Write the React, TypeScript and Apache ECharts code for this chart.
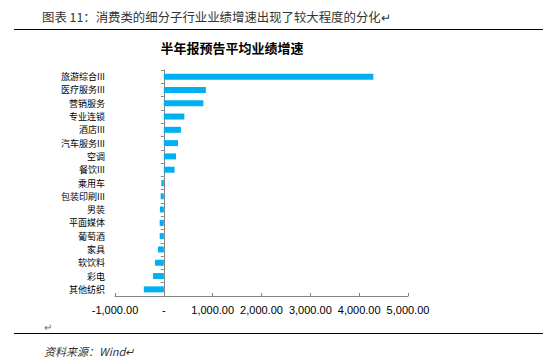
import React, { useEffect, useRef } from "react";
import * as echarts from "echarts";

const categories = [
  "旅游综合III", "医疗服务III", "营销服务", "专业连锁", "酒店III", "汽车服务III", "空调", "餐饮III",
  "乘用车", "包装印刷III", "男装", "平面媒体", "葡萄酒", "家具", "软饮料", "彩电", "其他纺织",
];
const growthValues = [4290, 860, 810, 420, 350, 290, 250, 220, -50, -65, -80, -85, -85, -120, -180, -220, -410];
const xTicks = { min: -1000, max: 5000, step: 1000 };

const headerText = "图表 11：消费类的细分子行业业绩增速出现了较大程度的分化↵";
const chartTitle = "半年报预告平均业绩增速";
const sourceText = "资料来源：Wind↵";

const CJK = '"Noto Sans CJK SC", "Liberation Sans", sans-serif';

function fmt(v: number): string {
  if (v === 0) return "-";
  const s = Math.abs(v).toFixed(2);
  const [i, d] = s.split(".");
  const withComma = i.replace(/\B(?=(\d{3})+(?!\d))/g, ",");
  return (v < 0 ? "-" : "") + withComma + "." + d;
}

export default function App() {
  const ref = useRef<HTMLDivElement>(null);
  useEffect(() => {
    if (!ref.current) return;
    const chart = echarts.init(ref.current, undefined, { renderer: "svg" });
    chart.setOption({
      animation: false,
      backgroundColor: "#ffffff",
      grid: { left: 115, right: 142, top: 70, bottom: 62, containLabel: false },
      xAxis: {
        type: "value",
        min: xTicks.min,
        max: xTicks.max,
        interval: xTicks.step,
        splitLine: { show: false },
        axisLine: { show: true, lineStyle: { color: "#868686", width: 1 } },
        axisTick: { show: true, inside: true, length: 3, lineStyle: { color: "#868686" } },
        axisLabel: {
          formatter: (v: number) => fmt(v),
          color: "#000",
          fontSize: 11,
          fontFamily: '"Liberation Sans", Arial, sans-serif',
          margin: 8,
        },
      },
      yAxis: {
        type: "category",
        inverse: true,
        data: categories,
        axisLine: { show: true, onZero: true, lineStyle: { color: "#868686", width: 1 } },
        axisTick: { show: true, length: 3, interval: 0, lineStyle: { color: "#868686" } },
        axisLabel: {
          interval: 0,
          color: "#000",
          fontSize: 9,
          lineHeight: 10,
          fontFamily: CJK,
          margin: 10,
        },
      },
      series: [
        {
          type: "bar",
          data: growthValues,
          barWidth: 6,
          itemStyle: { color: "#00B0F0" },
        },
      ],
      graphic: [
        {
          type: "text",
          x: 42,
          y: 17,
          style: {
            text: headerText,
            font: `12.4px ${CJK}`,
            fill: "#333",
            textVerticalAlign: "middle",
          },
        },
        {
          type: "line",
          shape: { x1: 14, y1: 29.5, x2: 543, y2: 29.5 },
          style: { stroke: "#000", lineWidth: 1.2 },
        },
        {
          type: "text",
          x: 232,
          y: 47,
          style: {
            text: chartTitle,
            font: `bold 13px ${CJK}`,
            fill: "#000",
            textAlign: "center",
            textVerticalAlign: "middle",
          },
        },
        {
          type: "text",
          x: 44,
          y: 326,
          style: { text: "↵", font: `10px ${CJK}`, fill: "#666", textVerticalAlign: "middle" },
        },
        {
          type: "line",
          shape: { x1: 14, y1: 333.5, x2: 543, y2: 333.5 },
          style: { stroke: "#000", lineWidth: 1.2 },
        },
        {
          type: "text",
          x: 44,
          y: 351,
          style: {
            text: sourceText,
            font: `italic 11px ${CJK}`,
            fill: "#333",
            textVerticalAlign: "middle",
          },
        },
      ],
    });
    return () => chart.dispose();
  }, []);
  return (
    <div
      ref={ref}
      style={{ position: "fixed", left: 0, top: 0, width: 550, height: 358, background: "#fff" }}
    />
  );
}
